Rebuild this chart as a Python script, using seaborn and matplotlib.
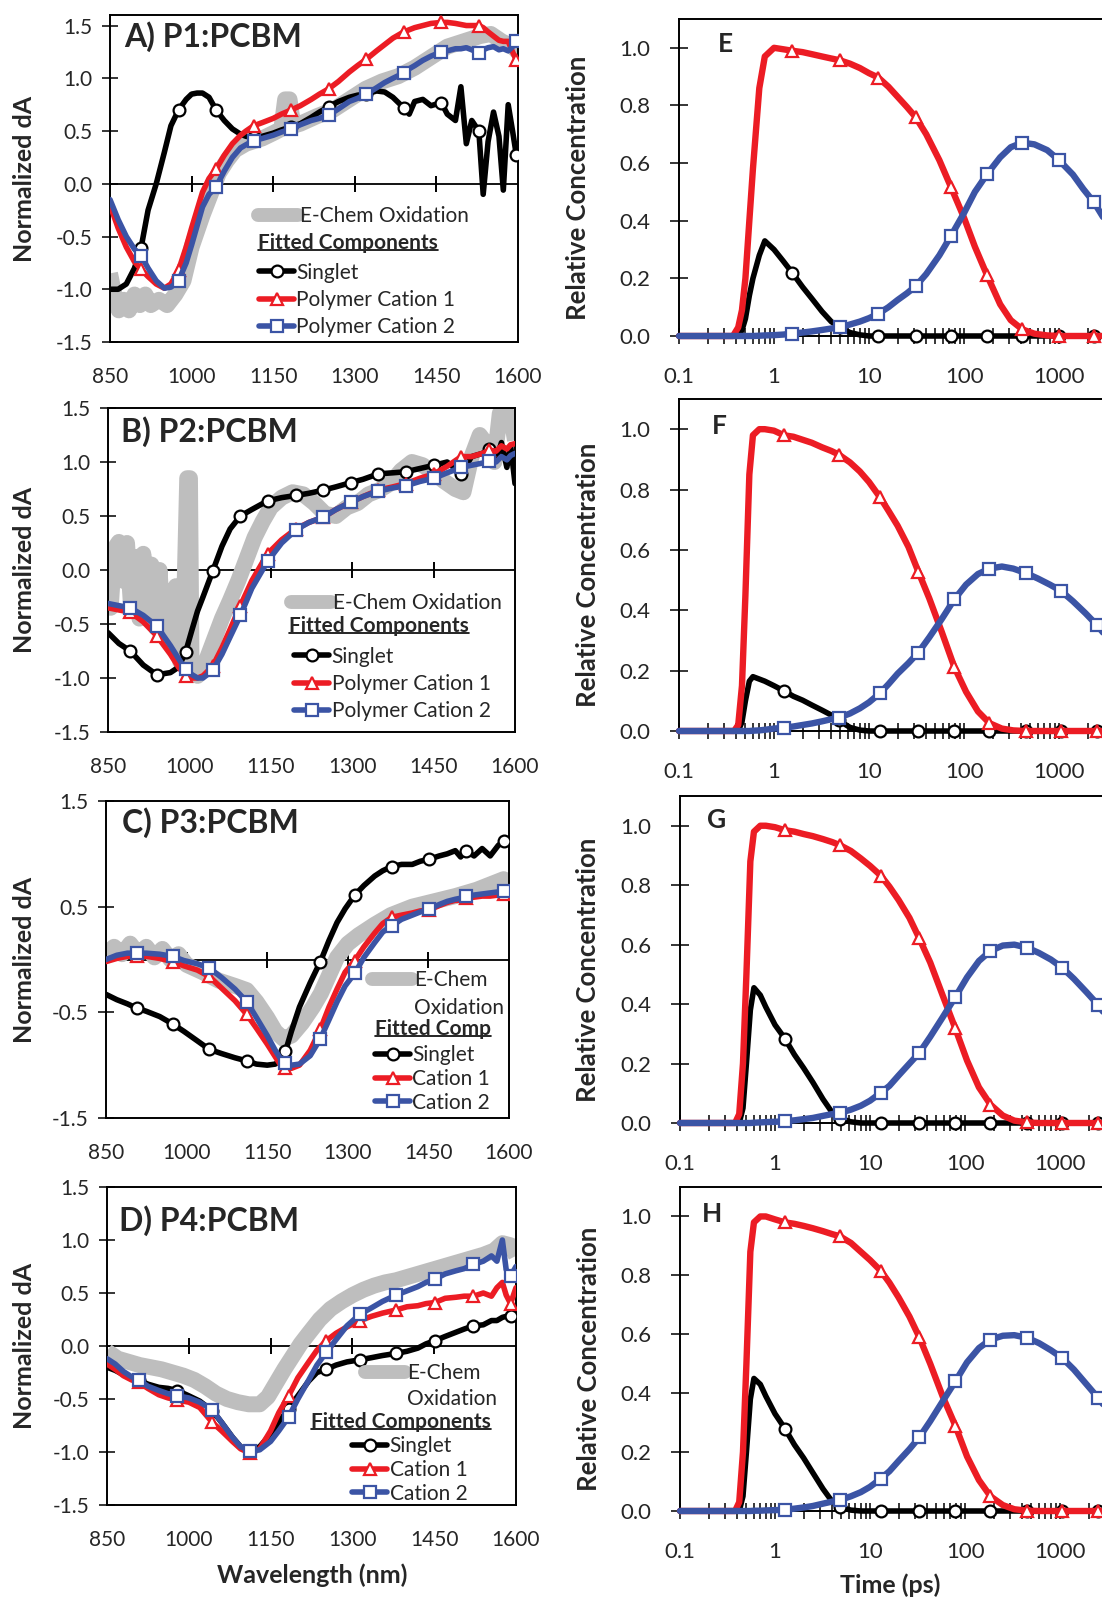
import numpy as np
import matplotlib
matplotlib.use("Agg")
import matplotlib.pyplot as plt
from matplotlib.lines import Line2D
from matplotlib.ticker import FixedLocator, FormatStrFormatter, LogLocator, NullFormatter
import seaborn as sns

sns.set_style("white")
plt.rcParams["font.family"] = ["Lato", "DejaVu Sans"]
plt.rcParams["axes.unicode_minus"] = False

RED = "#EC1C24"
BLUE = "#3B54A5"
BLACK = "#000000"
GRAY = "#BEBEBE"

# ---------------- spectra (left column) ----------------
wl_ticks = [850, 1000, 1150, 1300, 1450, 1600]
zero_ticks = [1000, 1150, 1300, 1450]

# A) P1:PCBM
wl_A = [850, 865, 880, 895, 907, 920, 935, 950, 962, 976, 990, 1000, 1010, 1020, 1032, 1045,
        1060, 1075, 1090, 1100, 1114, 1130, 1150, 1165, 1183, 1200, 1220, 1235, 1252, 1270,
        1290, 1305, 1321, 1340, 1355, 1370, 1390, 1400, 1410, 1425, 1440, 1459, 1470, 1485,
        1495, 1505, 1515, 1528, 1536, 1545, 1555, 1565, 1573, 1582, 1590, 1597, 1600]
singlet_A = [-1.00, -1.00, -0.95, -0.80, -0.61, -0.25, 0.00, 0.30, 0.55, 0.70, 0.80, 0.85,
             0.86, 0.86, 0.82, 0.70, 0.60, 0.52, 0.47, 0.45, 0.44, 0.45, 0.48, 0.51, 0.54,
             0.57, 0.63, 0.68, 0.73, 0.78, 0.82, 0.84, 0.85, 0.88, 0.87, 0.82, 0.72, 0.66,
             0.78, 0.80, 0.74, 0.77, 0.66, 0.60, 0.92, 0.38, 0.60, 0.50, -0.10, 0.40, 0.68,
             0.45, -0.06, 0.75, 0.50, 0.27, 0.27]
cation1_A = [-0.20, -0.42, -0.60, -0.74, -0.81, -0.88, -0.95, -0.99, -0.95, -0.82, -0.60,
             -0.42, -0.25, -0.08, 0.05, 0.14, 0.27, 0.38, 0.46, 0.50, 0.55, 0.58, 0.62, 0.66,
             0.70, 0.74, 0.80, 0.85, 0.90, 0.97, 1.06, 1.12, 1.18, 1.26, 1.32, 1.38, 1.44,
             1.46, 1.48, 1.50, 1.52, 1.53, 1.53, 1.52, 1.51, 1.50, 1.50, 1.50, 1.48, 1.44,
             1.40, 1.36, 1.35, 1.35, 1.25, 1.17, 1.17]
cation2_A = [-0.15, -0.34, -0.50, -0.62, -0.68, -0.80, -0.92, -0.99, -0.98, -0.92, -0.75,
             -0.58, -0.40, -0.22, -0.10, -0.03, 0.12, 0.25, 0.34, 0.37, 0.41, 0.43, 0.46,
             0.49, 0.52, 0.56, 0.60, 0.62, 0.65, 0.71, 0.78, 0.81, 0.85, 0.91, 0.96, 1.00,
             1.05, 1.09, 1.12, 1.17, 1.21, 1.25, 1.26, 1.28, 1.28, 1.29, 1.27, 1.24, 1.27,
             1.29, 1.30, 1.27, 1.28, 1.26, 1.30, 1.35, 1.35]
marks_A = [907, 976, 1045, 1114, 1183, 1252, 1321, 1390, 1459, 1528, 1597]
echem_wl_A = [850, 858, 866, 875, 885, 895, 905, 915, 925, 940, 955, 970, 985, 1000, 1010,
              1020, 1035, 1050, 1065, 1080, 1100, 1130, 1150, 1165, 1172, 1180, 1187, 1200,
              1230, 1260, 1290, 1320, 1350, 1380, 1410, 1440, 1470, 1500, 1530, 1550, 1570,
              1590, 1600]
echem_A = [-0.85, -1.05, -1.20, -1.10, -1.20, -1.05, -1.15, -1.05, -1.15, -1.10, -1.15,
           -1.05, -0.92, -0.60, -0.45, -0.30, -0.10, 0.10, 0.22, 0.32, 0.38, 0.43, 0.48,
           0.52, 0.80, 0.80, 0.55, 0.57, 0.64, 0.70, 0.80, 0.90, 0.97, 1.02, 1.10, 1.20,
           1.30, 1.35, 1.40, 1.42, 1.35, 1.30, 1.25]

# B) P2:PCBM
wl_B = [850, 870, 891, 915, 940, 965, 980, 993, 1005, 1015, 1025, 1043, 1060, 1075, 1094,
        1115, 1144, 1170, 1196, 1220, 1247, 1270, 1298, 1320, 1348, 1375, 1399, 1425, 1451,
        1475, 1501, 1520, 1540, 1553, 1565, 1575, 1585, 1592, 1600]
singlet_B = [-0.58, -0.68, -0.75, -0.88, -0.97, -0.95, -0.90, -0.76, -0.55, -0.38, -0.25,
             -0.01, 0.22, 0.38, 0.50, 0.56, 0.64, 0.67, 0.69, 0.71, 0.74, 0.77, 0.81, 0.84,
             0.89, 0.90, 0.91, 0.94, 0.97, 1.00, 0.89, 1.05, 1.08, 1.12, 1.02, 1.18, 0.95,
             1.15, 0.80]
cation1_B = [-0.35, -0.37, -0.39, -0.48, -0.61, -0.78, -0.90, -0.98, -1.00, -1.00, -0.98,
             -0.89, -0.72, -0.55, -0.33, -0.10, 0.15, 0.28, 0.38, 0.44, 0.49, 0.56, 0.63,
             0.68, 0.74, 0.77, 0.80, 0.85, 0.89, 0.96, 1.05, 1.05, 1.08, 1.11, 1.10, 1.15,
             1.12, 1.16, 1.17]
cation2_B = [-0.31, -0.33, -0.35, -0.42, -0.52, -0.70, -0.82, -0.92, -0.97, -1.00, -1.00,
             -0.93, -0.78, -0.62, -0.42, -0.17, 0.08, 0.25, 0.37, 0.44, 0.49, 0.56, 0.63,
             0.68, 0.73, 0.76, 0.78, 0.82, 0.85, 0.90, 0.95, 0.97, 0.99, 1.01, 1.00, 1.05,
             1.02, 1.06, 1.08]
marks_B = [891, 940, 993, 1043, 1094, 1144, 1196, 1247, 1298, 1348, 1399, 1451, 1501, 1553]
echem_wl_B = [850, 855, 862, 870, 878, 885, 892, 900, 908, 915, 922, 930, 938, 945, 952,
              960, 968, 975, 983, 990, 996, 1001, 1004, 1015, 1030, 1045, 1060, 1075, 1090,
              1105, 1120, 1135, 1150, 1170, 1190, 1210, 1230, 1250, 1270, 1290, 1310, 1330,
              1350, 1370, 1390, 1410, 1430, 1450, 1470, 1490, 1505, 1520, 1535, 1550, 1562,
              1572, 1585, 1595, 1600]
echem_B = [0.10, -0.35, 0.20, 0.26, -0.10, 0.25, -0.30, 0.12, -0.45, 0.15, -0.40, 0.05,
           -0.50, 0.00, -0.60, -0.20, -0.65, -0.15, -0.85, -0.40, 0.85, 0.85, -0.95, -0.98,
           -0.85, -0.65, -0.45, -0.28, -0.10, 0.10, 0.30, 0.45, 0.58, 0.67, 0.72, 0.70, 0.62,
           0.52, 0.50, 0.58, 0.62, 0.70, 0.74, 0.80, 0.92, 1.00, 0.97, 0.90, 0.82, 0.75,
           0.72, 1.05, 1.25, 1.15, 1.00, 1.45, 1.45, 1.35, 1.20]

# C) P3:PCBM
wl_C = [850, 870, 890, 907, 925, 950, 974, 995, 1020, 1042, 1065, 1090, 1112, 1130, 1150,
        1165, 1175, 1184, 1195, 1210, 1230, 1249, 1265, 1280, 1295, 1313, 1330, 1350, 1365,
        1382, 1400, 1420, 1435, 1452, 1470, 1485, 1500, 1510, 1520, 1535, 1550, 1565, 1580,
        1591, 1600]
singlet_C = [-0.33, -0.38, -0.42, -0.46, -0.49, -0.54, -0.61, -0.68, -0.77, -0.85, -0.89,
             -0.93, -0.96, -0.99, -1.00, -0.99, -0.95, -0.87, -0.68, -0.45, -0.22, -0.02,
             0.18, 0.35, 0.48, 0.61, 0.70, 0.79, 0.84, 0.88, 0.90, 0.90, 0.93, 0.95, 0.98,
             1.00, 1.03, 0.97, 1.03, 0.98, 1.05, 0.98, 1.08, 1.12, 1.12]
cation1_C = [-0.02, 0.01, 0.03, 0.03, 0.03, 0.01, -0.02, -0.06, -0.10, -0.16, -0.27, -0.39,
             -0.52, -0.65, -0.80, -0.92, -1.00, -1.03, -1.03, -1.00, -0.86, -0.66, -0.45,
             -0.28, -0.12, -0.01, 0.12, 0.25, 0.34, 0.40, 0.42, 0.44, 0.46, 0.47, 0.51, 0.54,
             0.56, 0.56, 0.58, 0.59, 0.60, 0.60, 0.61, 0.62, 0.61]
cation2_C = [0.00, 0.04, 0.06, 0.06, 0.06, 0.05, 0.03, -0.01, -0.04, -0.08, -0.17, -0.28,
             -0.40, -0.55, -0.72, -0.86, -0.94, -0.98, -1.00, -0.99, -0.91, -0.75, -0.57,
             -0.40, -0.25, -0.13, 0.02, 0.16, 0.26, 0.32, 0.38, 0.42, 0.45, 0.48, 0.52, 0.55,
             0.57, 0.58, 0.60, 0.61, 0.62, 0.63, 0.64, 0.65, 0.65]
marks_C = [907, 974, 1042, 1112, 1184, 1249, 1313, 1382, 1452, 1520, 1591]
echem_wl_C = [850, 865, 880, 895, 910, 925, 940, 955, 970, 985, 1000, 1030, 1060, 1090, 1112,
              1130, 1150, 1165, 1180, 1195, 1215, 1235, 1250, 1265, 1280, 1300, 1320, 1350,
              1380, 1420, 1460, 1500, 1540, 1570, 1590, 1600]
echem_C = [0.05, 0.12, 0.05, 0.15, 0.05, 0.12, 0.02, 0.10, 0.00, 0.05, -0.05, -0.12, -0.20,
           -0.25, -0.29, -0.40, -0.55, -0.68, -0.75, -0.72, -0.60, -0.45, -0.32, -0.15, 0.02,
           0.15, 0.23, 0.33, 0.42, 0.50, 0.55, 0.60, 0.66, 0.72, 0.76, 0.73]

# D) P4:PCBM
wl_D = [850, 865, 880, 895, 908, 925, 945, 962, 979, 1000, 1020, 1043, 1060, 1080, 1095, 1112,
        1130, 1150, 1165, 1183, 1200, 1220, 1235, 1252, 1270, 1290, 1314, 1335, 1355, 1380,
        1400, 1420, 1435, 1451, 1470, 1490, 1505, 1522, 1540, 1555, 1565, 1575, 1582, 1590,
        1600]
singlet_D = [-0.20, -0.23, -0.27, -0.30, -0.32, -0.36, -0.39, -0.40, -0.42, -0.47, -0.52,
             -0.61, -0.72, -0.86, -0.95, -0.99, -0.95, -0.83, -0.72, -0.59, -0.47, -0.33,
             -0.25, -0.22, -0.18, -0.15, -0.13, -0.11, -0.09, -0.07, -0.05, -0.02, 0.02, 0.05,
             0.09, 0.13, 0.16, 0.19, 0.20, 0.24, 0.24, 0.27, 0.28, 0.28, 0.28]
cation1_D = [-0.17, -0.22, -0.28, -0.32, -0.34, -0.40, -0.46, -0.49, -0.51, -0.53, -0.58,
             -0.72, -0.80, -0.90, -0.97, -1.01, -0.97, -0.80, -0.63, -0.47, -0.30, -0.15,
             -0.04, 0.05, 0.12, 0.18, 0.24, 0.28, 0.31, 0.34, 0.37, 0.38, 0.40, 0.41, 0.45,
             0.46, 0.47, 0.47, 0.50, 0.47, 0.55, 0.60, 0.48, 0.40, 0.55]
cation2_D = [-0.12, -0.17, -0.24, -0.29, -0.32, -0.38, -0.42, -0.45, -0.47, -0.49, -0.53,
             -0.60, -0.72, -0.86, -0.95, -0.99, -0.98, -0.90, -0.80, -0.67, -0.50, -0.32,
             -0.18, -0.06, 0.06, 0.19, 0.30, 0.36, 0.42, 0.48, 0.52, 0.56, 0.60, 0.63, 0.68,
             0.71, 0.73, 0.77, 0.80, 0.85, 0.80, 1.00, 0.72, 0.66, 0.75]
marks_D = [908, 979, 1043, 1112, 1183, 1252, 1314, 1380, 1451, 1522, 1590]
echem_wl_D = [850, 870, 890, 910, 930, 950, 970, 990, 1010, 1030, 1050, 1070, 1090, 1110,
              1130, 1145, 1160, 1175, 1190, 1205, 1220, 1240, 1260, 1280, 1300, 1320, 1340,
              1360, 1380, 1400, 1420, 1440, 1460, 1480, 1500, 1520, 1540, 1560, 1575, 1590,
              1600]
echem_D = [-0.05, -0.12, -0.15, -0.18, -0.20, -0.22, -0.25, -0.28, -0.32, -0.38, -0.45,
           -0.50, -0.53, -0.55, -0.55, -0.48, -0.35, -0.22, -0.10, 0.02, 0.12, 0.25, 0.35,
           0.42, 0.48, 0.53, 0.57, 0.60, 0.62, 0.65, 0.68, 0.71, 0.74, 0.77, 0.80, 0.83,
           0.86, 0.90, 0.97, 0.95, 0.85]

# ---------------- kinetics (right column) ----------------
time_ticks = [0.1, 1, 10, 100, 1000]
time_labels = ["0.1", "1", "10", "100", "1000"]
conc_ticks = [0.0, 0.2, 0.4, 0.6, 0.8, 1.0]

t_E = [0.1, 0.2, 0.3, 0.37, 0.42, 0.46, 0.5, 0.55, 0.6, 0.7, 0.8, 1.0, 1.25, 1.55, 2.0, 2.5,
       3.2, 4.0, 4.9, 6.3, 8.0, 10, 12.5, 16, 20, 25, 31, 40, 55, 73, 100, 130, 175, 240, 310,
       410, 550, 750, 1000, 1400, 1800, 2330, 3200, 4500, 6000]
marks_t_E = [1.55, 4.9, 12.5, 31, 73, 175, 410, 1000, 2330]
singlet_E = [0, 0, 0, 0, 0.0, 0.02, 0.06, 0.14, 0.20, 0.28, 0.33, 0.30, 0.26, 0.22, 0.17, 0.13,
             0.085, 0.05, 0.03, 0.012, 0.004, 0, 0, 0, 0, 0, 0, 0, 0, 0, 0, 0, 0, 0, 0, 0, 0,
             0, 0, 0, 0, 0, 0, 0, 0]
cation1_E = [0, 0, 0, 0.0, 0.03, 0.09, 0.20, 0.40, 0.58, 0.86, 0.97, 1.00, 0.995, 0.99, 0.985,
             0.978, 0.97, 0.963, 0.957, 0.945, 0.93, 0.912, 0.897, 0.865, 0.83, 0.795, 0.759,
             0.70, 0.61, 0.516, 0.41, 0.31, 0.21, 0.11, 0.055, 0.023, 0.008, 0.002, 0, 0, 0,
             0, 0, 0, 0]
cation2_E = [0, 0, 0, 0, 0, 0, 0, 0, 0, 0.001, 0.002, 0.003, 0.005, 0.008, 0.012, 0.016, 0.021,
             0.026, 0.03, 0.04, 0.05, 0.062, 0.077, 0.10, 0.125, 0.148, 0.173, 0.215, 0.28,
             0.348, 0.427, 0.50, 0.562, 0.62, 0.655, 0.671, 0.665, 0.645, 0.61, 0.56, 0.51,
             0.464, 0.39, 0.31, 0.25]

t_FGH = [0.1, 0.2, 0.3, 0.38, 0.42, 0.46, 0.5, 0.55, 0.6, 0.7, 0.8, 1.0, 1.27, 1.6, 2.0, 2.5,
         3.2, 4.0, 4.8, 6.3, 8.0, 10, 13, 16, 20, 26, 33, 43, 58, 79, 105, 140, 185, 250, 330,
         450, 600, 800, 1050, 1400, 1900, 2500, 3400, 4600, 6000]
marks_t_FGH = [1.27, 4.8, 13, 33, 79, 185, 450, 1050, 2500]
singlet_F = [0, 0, 0, 0, 0.0, 0.03, 0.10, 0.165, 0.18, 0.172, 0.165, 0.15, 0.133, 0.115, 0.102,
             0.086, 0.069, 0.053, 0.035, 0.012, 0.003, 0, 0, 0, 0, 0, 0, 0, 0, 0, 0, 0, 0, 0,
             0, 0, 0, 0, 0, 0, 0, 0, 0, 0, 0]
cation1_F = [0, 0, 0, 0.0, 0.02, 0.15, 0.45, 0.85, 0.98, 1.00, 1.00, 0.995, 0.98, 0.975, 0.965,
             0.955, 0.94, 0.928, 0.916, 0.89, 0.86, 0.825, 0.775, 0.73, 0.68, 0.61, 0.528,
             0.44, 0.33, 0.212, 0.13, 0.065, 0.026, 0.008, 0.002, 0, 0, 0, 0, 0, 0, 0, 0, 0, 0]
cation2_F = [0, 0, 0, 0, 0, 0, 0, 0, 0.001, 0.002, 0.004, 0.008, 0.011, 0.015, 0.02, 0.025,
             0.032, 0.039, 0.044, 0.058, 0.075, 0.095, 0.125, 0.155, 0.19, 0.225, 0.26, 0.31,
             0.37, 0.436, 0.485, 0.52, 0.538, 0.545, 0.538, 0.523, 0.505, 0.485, 0.464, 0.43,
             0.39, 0.351, 0.30, 0.25, 0.21]
singlet_G = [0, 0, 0, 0, 0.0, 0.05, 0.20, 0.38, 0.455, 0.43, 0.39, 0.33, 0.284, 0.23, 0.185,
             0.137, 0.08, 0.035, 0.015, 0.004, 0, 0, 0, 0, 0, 0, 0, 0, 0, 0, 0, 0, 0, 0, 0, 0,
             0, 0, 0, 0, 0, 0, 0, 0, 0]
cation1_G = [0, 0, 0, 0.0, 0.03, 0.20, 0.50, 0.88, 0.98, 1.00, 1.00, 0.995, 0.985, 0.98, 0.972,
             0.965, 0.955, 0.945, 0.935, 0.915, 0.89, 0.865, 0.832, 0.795, 0.75, 0.69, 0.621,
             0.54, 0.43, 0.318, 0.21, 0.12, 0.062, 0.025, 0.008, 0.002, 0, 0, 0, 0, 0, 0, 0, 0,
             0]
cation2_G = [0, 0, 0, 0, 0, 0, 0, 0, 0.001, 0.002, 0.003, 0.004, 0.006, 0.009, 0.013, 0.017,
             0.024, 0.03, 0.034, 0.045, 0.058, 0.075, 0.102, 0.125, 0.16, 0.20, 0.236, 0.29,
             0.355, 0.424, 0.49, 0.545, 0.579, 0.597, 0.60, 0.59, 0.572, 0.55, 0.523, 0.485,
             0.44, 0.398, 0.34, 0.28, 0.23]
singlet_H = [0, 0, 0, 0, 0.0, 0.05, 0.20, 0.38, 0.45, 0.43, 0.39, 0.33, 0.28, 0.225, 0.18,
             0.13, 0.075, 0.032, 0.013, 0.003, 0, 0, 0, 0, 0, 0, 0, 0, 0, 0, 0, 0, 0, 0, 0, 0,
             0, 0, 0, 0, 0, 0, 0, 0, 0]
cation1_H = [0, 0, 0, 0.0, 0.03, 0.20, 0.50, 0.88, 0.98, 1.00, 1.00, 0.99, 0.98, 0.975, 0.968,
             0.96, 0.95, 0.94, 0.933, 0.91, 0.88, 0.852, 0.815, 0.775, 0.725, 0.66, 0.59, 0.5,
             0.39, 0.29, 0.185, 0.105, 0.05, 0.02, 0.006, 0.001, 0, 0, 0, 0, 0, 0, 0, 0, 0]
cation2_H = [0, 0, 0, 0, 0, 0, 0, 0, 0.001, 0.001, 0.002, 0.003, 0.004, 0.008, 0.012, 0.017,
             0.025, 0.032, 0.037, 0.05, 0.064, 0.082, 0.11, 0.135, 0.17, 0.21, 0.25, 0.305,
             0.372, 0.44, 0.505, 0.553, 0.582, 0.595, 0.597, 0.588, 0.57, 0.546, 0.52, 0.48,
             0.43, 0.385, 0.33, 0.27, 0.22]

W, H = 1102, 1600
fig = plt.figure(figsize=(W / 100, H / 100), dpi=100)
renderer = fig.canvas.get_renderer()

LW_SPEC = 4.0
LW_KIN = 4.6
MS = 8.5


def px(x, y):
    return (x / W, 1 - y / H)


def add_ax(l, t, r, b):
    return fig.add_axes([l / W, 1 - b / H, (r - l) / W, (b - t) / H])


def style_frame(ax):
    for s in ax.spines.values():
        s.set_visible(True)
        s.set_color("black")
        s.set_linewidth(1.4)


def fitted_handle(color, marker):
    return Line2D([], [], color=color, linewidth=LW_SPEC, marker=marker, markersize=MS,
                  markerfacecolor="white", markeredgecolor=color, markeredgewidth=1.6)


def underlined(x, y, text):
    t = fig.text(*px(x, y), text, fontsize=15, fontweight="bold", va="center", ha="left")
    bb = t.get_window_extent(renderer)
    yl = bb.y0 + 0.15 * bb.height
    fig.add_artist(Line2D([bb.x0 / W, bb.x1 / W], [yl / H, yl / H], color="black", lw=1.2,
                          transform=fig.transFigure))


def spectra_panel(box, ylim, yticks, title, title_xy, wl, singlet, cat1, cat2, marks,
                  ewl, echem, names, echem_rows, leg):
    ax = add_ax(*box)
    style_frame(ax)
    ax.axhline(0, color="black", lw=1.3, zorder=1)
    ax.plot(zero_ticks, [0] * len(zero_ticks), ls="none", marker="|", markersize=11.5,
            markeredgewidth=1.4, color="black", zorder=1)
    sns.lineplot(x=ewl, y=echem, color=GRAY, linewidth=11.5, ax=ax, zorder=2,
                 solid_joinstyle="round", solid_capstyle="butt")
    idx = [wl.index(m) for m in marks]
    for y, c, mk, z in ((singlet, BLACK, "o", 3), (cat1, RED, "^", 4), (cat2, BLUE, "s", 5)):
        sns.lineplot(x=wl, y=y, color=c, linewidth=LW_SPEC, marker=mk, markevery=idx,
                     markersize=MS, mfc="white", mec=c, mew=1.6, ax=ax, zorder=z)
    ax.set_xlim(850, 1600)
    ax.set_ylim(*ylim)
    ax.set_xticks(wl_ticks)
    ax.set_yticks(yticks)
    ax.yaxis.set_major_formatter(FormatStrFormatter("%.1f"))
    ax.tick_params(axis="x", length=0, pad=18, labelsize=15)
    ax.tick_params(axis="y", direction="inout", length=11, width=1.3, pad=7, labelsize=15,
                   left=True)
    ax.set_xlabel("")
    ax.set_ylabel("Normalized dA", fontsize=18, fontweight="bold")
    ax.yaxis.set_label_coords(*px(36, (box[1] + box[3]) / 2), transform=fig.transFigure)
    fig.text(*px(*title_xy), title, fontsize=23, fontweight="bold", va="center", ha="left")

    # legend: E-Chem entry, underlined heading, fitted components
    (ex, ey, esp), (tx, ty, ttxt), (fx, fy, fsp) = leg
    e_handles = [Line2D([], [], color=GRAY, linewidth=10)]
    e_labels = [echem_rows[0]]
    if len(echem_rows) > 1:
        e_handles.append(Line2D([], [], color="none"))
        e_labels.append(echem_rows[1])
    fig.legend(e_handles, e_labels, loc="center left", bbox_to_anchor=px(ex, ey),
               bbox_transform=fig.transFigure, frameon=False, fontsize=15, borderpad=0,
               borderaxespad=0, handlelength=1.9, handletextpad=0.1, labelspacing=esp)
    underlined(tx, ty, ttxt)
    f_handles = [fitted_handle(BLACK, "o"), fitted_handle(RED, "^"), fitted_handle(BLUE, "s")]
    fig.legend(f_handles, names, loc="center left", bbox_to_anchor=px(fx, fy),
               bbox_transform=fig.transFigure, frameon=False, fontsize=15, borderpad=0,
               borderaxespad=0, handlelength=1.7, handletextpad=0.1, labelspacing=fsp)
    return ax


long_names = ["Singlet", "Polymer Cation 1", "Polymer Cation 2"]
short_names = ["Singlet", "Cation 1", "Cation 2"]
ticks_half = [1.5, 1.0, 0.5, 0.0, -0.5, -1.0, -1.5]

spectra_panel((110, 15, 518, 342), (-1.5, 1.6), ticks_half, "A) P1:PCBM", (124, 37),
              wl_A, singlet_A, cation1_A, cation2_A, marks_A, echem_wl_A, echem_A,
              long_names, ["E-Chem Oxidation"],
              ((258, 216, 0.4), (258, 243, "Fitted Components"), (259, 300, 0.35)))
spectra_panel((108, 408, 515, 732), (-1.5, 1.5), ticks_half, "B) P2:PCBM", (121, 432),
              wl_B, singlet_B, cation1_B, cation2_B, marks_B, echem_wl_B, echem_B,
              long_names, ["E-Chem Oxidation"],
              ((291, 603, 0.4), (289, 626, "Fitted Components"), (294, 684, 0.35)))
spectra_panel((106, 801, 509, 1118), (-1.5, 1.5), [1.5, 0.5, -0.5, -1.5], "C) P3:PCBM",
              (122, 823), wl_C, singlet_C, cation1_C, cation2_C, marks_C, echem_wl_C, echem_C,
              short_names, ["E-Chem", "Oxidation"],
              ((372, 994, 0.35), (375, 1029, "Fitted Comp"), (375, 1079, 0.18)))
spectra_panel((107, 1187, 516, 1505), (-1.5, 1.5), ticks_half, "D) P4:PCBM", (119, 1221),
              wl_D, singlet_D, cation1_D, cation2_D, marks_D, echem_wl_D, echem_D,
              short_names, ["E-Chem", "Oxidation"],
              ((365, 1386, 0.3), (311, 1422, "Fitted Components"), (352, 1470, 0.18)))
fig.text(*px(312, 1575), "Wavelength (nm)", fontsize=18, fontweight="bold",
         ha="center", va="center")


def kinetics_panel(box, letter, letter_xy, t, marks_t, singlet, cat1, cat2):
    ax = add_ax(*box)
    style_frame(ax)
    ax.set_xscale("log")
    idx = [t.index(m) for m in marks_t]
    for y, c, mk, lw, z in ((singlet, BLACK, "o", 4.0, 3), (cat1, RED, "^", LW_KIN, 4),
                            (cat2, BLUE, "s", LW_KIN, 5)):
        sns.lineplot(x=t, y=y, color=c, linewidth=lw, marker=mk, markevery=idx,
                     markersize=MS, mfc="white", mec=c, mew=1.6, ax=ax, zorder=z,
                     clip_on=False)
    ax.set_xlim(0.1, 6000)
    ax.set_ylim(0, 1.1)
    ax.xaxis.set_major_locator(FixedLocator(time_ticks))
    ax.set_xticklabels(time_labels)
    ax.xaxis.set_minor_locator(LogLocator(base=10, subs=np.arange(2, 10), numticks=30))
    ax.xaxis.set_minor_formatter(NullFormatter())
    ax.set_yticks(conc_ticks)
    ax.yaxis.set_major_formatter(FormatStrFormatter("%.1f"))
    ax.tick_params(axis="x", which="both", direction="inout", length=12, width=1.3, pad=16,
                   labelsize=16, bottom=True)
    ax.tick_params(axis="y", direction="inout", length=13, width=1.3, pad=14, labelsize=16,
                   left=True)
    ax.set_xlabel("")
    ax.set_ylabel("Relative Concentration", fontsize=18.5, fontweight="bold")
    ax.yaxis.set_label_coords(*px(letter_xy[2], (box[1] + box[3]) / 2 + 10),
                              transform=fig.transFigure)
    fig.text(*px(*letter_xy[:2]), letter, fontsize=19, fontweight="bold", va="center",
             ha="left")
    return ax


kinetics_panel((679, 19, 1133, 336), "E", (718, 44, 590), t_E, marks_t_E,
               singlet_E, cation1_E, cation2_E)
kinetics_panel((679, 399, 1133, 731), "F", (712, 426, 600), t_FGH, marks_t_FGH,
               singlet_F, cation1_F, cation2_F)
kinetics_panel((680, 796, 1134, 1123), "G", (707, 820, 600), t_FGH, marks_t_FGH,
               singlet_G, cation1_G, cation2_G)
kinetics_panel((680, 1187, 1134, 1511), "H", (702, 1214, 601), t_FGH, marks_t_FGH,
               singlet_H, cation1_H, cation2_H)
fig.text(*px(890, 1585), "Time (ps)", fontsize=18, fontweight="bold",
         ha="center", va="center")

fig.savefig("out.png", dpi=100)
